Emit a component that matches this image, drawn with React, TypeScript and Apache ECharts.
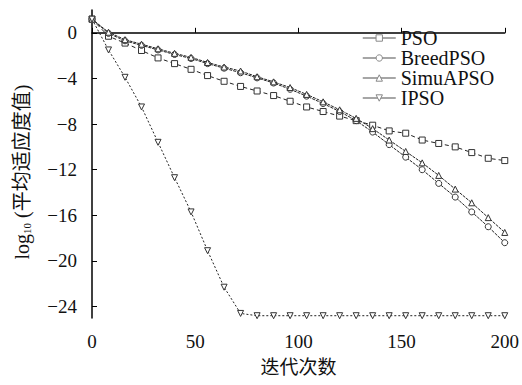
import React, { useEffect, useRef } from "react";
import * as echarts from "echarts";

const iterations = [0, 8, 16, 24, 32, 40, 48, 56, 64, 72, 80, 88, 96, 104, 112, 120, 128, 136, 144, 152, 160, 168, 176, 184, 192, 200];
const psoValues = [1.2, -0.3, -0.9, -1.55, -2.2, -2.7, -3.2, -3.75, -4.25, -4.7, -5.1, -5.5, -6.0, -6.5, -6.9, -7.3, -7.7, -8.1, -8.6, -8.8, -9.4, -9.7, -10.0, -10.5, -11.0, -11.2];
const breedValues = [1.2, -0.05, -0.7, -1.1, -1.5, -1.9, -2.25, -2.7, -3.1, -3.5, -3.95, -4.4, -4.95, -5.55, -6.2, -6.9, -7.7, -8.7, -9.8, -10.9, -12.0, -13.2, -14.4, -15.7, -17.0, -18.4];
const simuValues = [1.2, 0.05, -0.6, -1.0, -1.4, -1.8, -2.15, -2.6, -3.0, -3.35, -3.85, -4.3, -4.8, -5.4, -6.05, -6.75, -7.5, -8.4, -9.4, -10.4, -11.4, -12.5, -13.7, -14.9, -16.2, -17.5];
const ipsoValues = [1.2, -1.5, -3.9, -6.5, -9.6, -12.7, -15.7, -19.1, -22.3, -24.6, -24.8, -24.8, -24.8, -24.8, -24.8, -24.8, -24.8, -24.8, -24.8, -24.8, -24.8, -24.8, -24.8, -24.8, -24.8, -24.8];
const seriesNames = ["PSO", "BreedPSO", "SimuAPSO", "IPSO"];
const yTicks = [0, -4, -8, -12, -16, -20, -24];

const SERIF = "Liberation Serif, Times New Roman, serif";
const CJK = "Liberation Serif, Noto Sans CJK SC, serif";

export default function App() {
  const ref = useRef<HTMLDivElement>(null);
  useEffect(() => {
    if (!ref.current) return;
    const chart = echarts.init(ref.current, undefined, { renderer: "svg" });
    const pairs = (vals: number[]) => iterations.map((x, i) => [x, vals[i]]);
    const lineColor = "#222";
    const mk = (name: string, vals: number[], symbol: string, dash: any, rotate = 0) => ({
      name,
      type: "line",
      data: pairs(vals),
      symbol,
      symbolSize: 6,
      symbolRotate: rotate,
      showSymbol: true,
      lineStyle: { color: lineColor, width: 1, type: dash },
      itemStyle: { color: "#fff", borderColor: "#333", borderWidth: 1 },
      z: 3,
    });
    chart.setOption({
      animation: false,
      backgroundColor: "#fff",
      grid: { left: 92, right: 14, top: 10, bottom: 67 },
      legend: {
        orient: "vertical",
        left: 357,
        top: 23,
        itemWidth: 33,
        itemHeight: 8,
        itemGap: 0,
        data: seriesNames,
        textStyle: { fontFamily: SERIF, fontSize: 20, color: "#111" },
        lineStyle: { color: "#888", type: "solid", width: 1.5 },
        itemStyle: { color: "#fff", borderColor: "#888", borderWidth: 1 },
      },
      xAxis: {
        type: "value",
        min: 0,
        max: 200,
        interval: 50,
        name: "迭代次数",
        nameLocation: "middle",
        nameGap: 38,
        nameTextStyle: { fontFamily: "Noto Sans CJK SC", fontSize: 19, color: "#111" },
        axisLine: { show: true, lineStyle: { color: "#000", width: 1.5 } },
        axisTick: { show: true, inside: true, length: 5, lineStyle: { color: "#000" } },
        axisLabel: { fontFamily: SERIF, fontSize: 19, color: "#111", margin: 14 },
        splitLine: { show: false },
      },
      yAxis: {
        type: "value",
        min: -25,
        max: 2,
        name: "log{sub|10} (平均适应度值)",
        nameLocation: "middle",
        nameGap: 60,
        nameRotate: 90,
        nameTextStyle: {
          fontFamily: CJK,
          fontSize: 20,
          color: "#111",
          padding: [0, 16, 0, 0],
          rich: {
            sub: { fontFamily: SERIF, fontSize: 11, color: "#111", verticalAlign: "bottom", padding: [8, 0, 0, 0] },
          },
        },
        axisLine: { show: true, lineStyle: { color: "#000", width: 1.5 } },
        axisTick: { show: true, inside: true, length: 5, lineStyle: { color: "#000" }, customValues: yTicks },
        axisLabel: {
          fontFamily: SERIF,
          fontSize: 19,
          color: "#111",
          margin: 15,
          customValues: yTicks,
          formatter: (v: number) => (v < 0 ? "\u2212" + Math.abs(v) : String(v)),
        },
        splitLine: { show: false },
      },
      series: [
        mk("PSO", psoValues, "rect", [4, 3]),
        mk("BreedPSO", breedValues, "circle", [3, 1]),
        mk("SimuAPSO", simuValues, "triangle", [3, 1]),
        mk("IPSO", ipsoValues, "triangle", [2, 2], 180),
      ],
    });
    return () => chart.dispose();
  }, []);
  return <div ref={ref} style={{ width: 522, height: 385, position: "absolute", left: 0, top: 0 }} />;
}
